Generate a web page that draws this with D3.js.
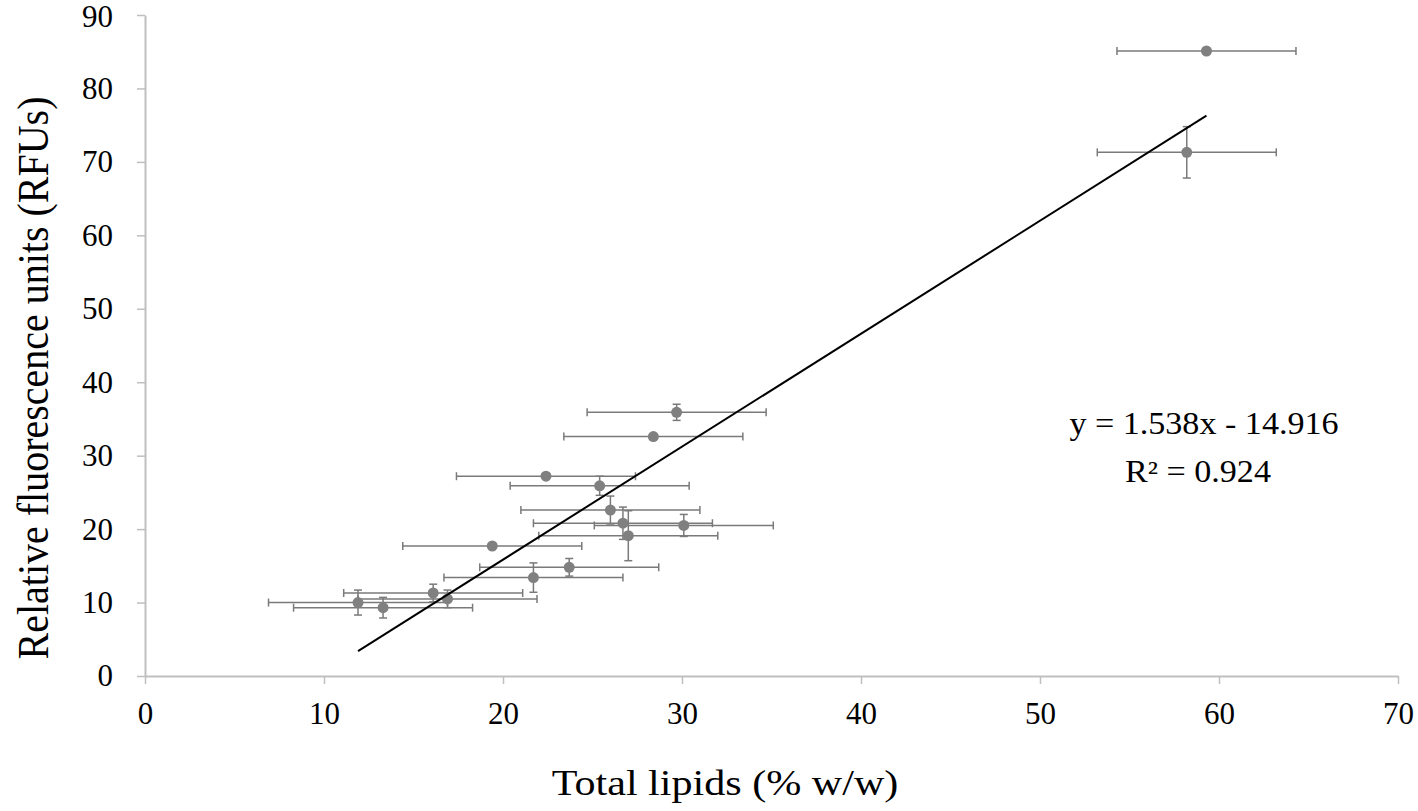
<!DOCTYPE html>
<html><head><meta charset="utf-8">
<script src="https://cdn.jsdelivr.net/npm/d3@7"></script>
<style>body{margin:0;background:#fff}svg{display:block}</style>
</head><body>
<svg id="c" width="1418" height="811"></svg>
<script>
const lipids = [59.3, 58.2, 29.7, 28.4, 22.4, 25.4, 26.0, 26.7, 30.1, 27.0, 19.4, 23.7, 21.7, 16.1, 16.9, 11.9, 13.3];
const rfu    = [85.1, 71.3, 35.9, 32.6, 27.2, 25.9, 22.6, 20.8, 20.5, 19.1, 17.7, 14.8, 13.4, 11.3, 10.5, 10.0, 9.3];
const xErr   = [5.0, 5.0, 5.0, 5.0, 5.0, 5.0, 5.0, 5.0, 5.0, 5.0, 5.0, 5.0, 5.0, 5.0, 5.0, 5.0, 5.0];
const yErr   = [0.3, 3.5, 1.1, 0.3, 0.3, 1.3, 1.9, 2.2, 1.5, 3.4, 0.2, 1.2, 2.0, 1.2, 1.2, 1.7, 1.4];
const xTicks = [0, 10, 20, 30, 40, 50, 60, 70];
const yTicks = [0, 10, 20, 30, 40, 50, 60, 70, 80, 90];
const slope = 1.538, intercept = -14.916, r2 = 0.924;

const svg = d3.select("#c");
const x = d3.scaleLinear().domain([0, 70]).range([145, 1398]);
const y = d3.scaleLinear().domain([0, 90]).range([676, 15]);
const axisColor = "#bfbfbf", font = "'Liberation Serif','Times New Roman',serif";

const gx = svg.append("g").attr("transform", `translate(0,${y(0)})`)
  .call(d3.axisBottom(x).tickValues(xTicks).tickSize(8).tickPadding(18).tickSizeOuter(0));
const gy = svg.append("g").attr("transform", `translate(${x(0)},0)`)
  .call(d3.axisLeft(y).tickValues(yTicks).tickSize(8).tickPadding(24).tickSizeOuter(0));
[gx, gy].forEach(g => {
  g.select(".domain").attr("stroke", axisColor).attr("stroke-width", 2);
  g.selectAll(".tick line").attr("stroke", axisColor).attr("stroke-width", 1.5);
  g.selectAll(".tick text").attr("fill", "#000")
    .style("font-family", font).style("font-size", "31px");
});
gy.select(".tick:last-of-type text").attr("dy", "0.36em");

const data = lipids.map((v, i) => ({x: v, y: rfu[i], ex: xErr[i], ey: yErr[i]}));
const ebColor = "#7a7a7a", cap = 4;
const eb = svg.append("g").attr("stroke", ebColor).attr("stroke-width", 1.5).attr("fill", "none");
data.forEach(d => {
  eb.append("line").attr("x1", x(d.x - d.ex)).attr("x2", x(d.x + d.ex)).attr("y1", y(d.y)).attr("y2", y(d.y));
  eb.append("line").attr("x1", x(d.x - d.ex)).attr("x2", x(d.x - d.ex)).attr("y1", y(d.y) - cap).attr("y2", y(d.y) + cap);
  eb.append("line").attr("x1", x(d.x + d.ex)).attr("x2", x(d.x + d.ex)).attr("y1", y(d.y) - cap).attr("y2", y(d.y) + cap);
  eb.append("line").attr("x1", x(d.x)).attr("x2", x(d.x)).attr("y1", y(d.y - d.ey)).attr("y2", y(d.y + d.ey));
  eb.append("line").attr("x1", x(d.x) - cap).attr("x2", x(d.x) + cap).attr("y1", y(d.y - d.ey)).attr("y2", y(d.y - d.ey));
  eb.append("line").attr("x1", x(d.x) - cap).attr("x2", x(d.x) + cap).attr("y1", y(d.y + d.ey)).attr("y2", y(d.y + d.ey));
});

svg.append("g").selectAll("circle").data(data).join("circle")
  .attr("cx", d => x(d.x)).attr("cy", d => y(d.y)).attr("r", 5.5).attr("fill", "#808080");

const xmin = d3.min(lipids), xmax = d3.max(lipids);
svg.append("line").attr("x1", x(xmin)).attr("y1", y(slope * xmin + intercept))
  .attr("x2", x(xmax)).attr("y2", y(slope * xmax + intercept))
  .attr("stroke", "#000").attr("stroke-width", 2);

function stretchedText(cx, cy, size, sx, txt) {
  svg.append("text").attr("transform", `translate(${cx},${cy}) scale(${sx},1)`)
    .attr("text-anchor", "middle").style("font-family", font).style("font-size", size + "px").text(txt);
}
stretchedText(1204, 434, 31, 1.1, `y = ${slope}x - ${Math.abs(intercept)}`);
stretchedText(1198, 482, 31, 1.1, `R² = ${r2}`);
stretchedText(725, 795, 36, 1.17, "Total lipids (% w/w)");

svg.append("text").attr("transform", `translate(48,378) rotate(-90) scale(1,1.1)`).attr("text-anchor", "middle")
  .style("font-family", font).style("font-size", "40px").text("Relative fluorescence units (RFUs)");
</script>
</body></html>
